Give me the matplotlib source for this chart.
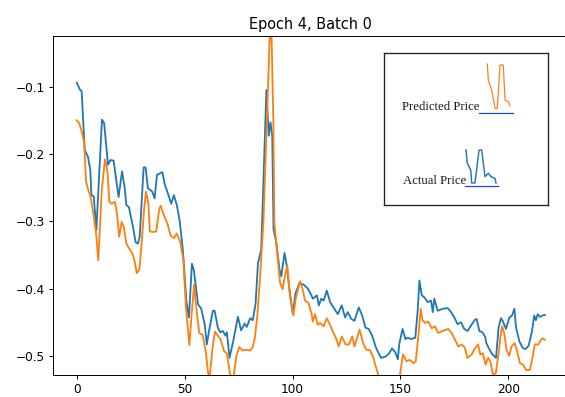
import matplotlib
matplotlib.use("Agg")
import matplotlib.pyplot as plt

# values (x index, price)
actual_x = [0, 1.4, 2.3, 3.7, 5.2, 6.3, 6.8, 7.9, 9.1, 11.7, 12.7, 14.5, 15.6, 17.1,
            19.4, 21.0, 22.2, 23.0, 24.2, 25.3, 26.1, 27.3, 28.4, 29.2, 31.0, 31.9,
            33.0, 35.0, 36.1, 37.2, 39.7, 40.7, 42.3, 43.8, 45.0, 46.4, 47.7, 49.2,
            50.8, 52.0, 53.4, 54.3, 56.2, 57.7, 59.3, 60.3, 61.3, 63.1, 63.9, 65.4,
            66.5, 67.7, 69.0, 69.6, 70.8, 72.4, 74.7, 76.2, 77.8, 78.8, 80.4, 81.6,
            82.9, 84.0, 85.5, 86.7, 87.9, 89.0, 89.8, 90.6, 91.2, 92.5, 94.0, 94.8,
            96.3, 97.4, 98.6, 100.1, 101.4, 103.2, 105.1, 107.1, 108.6, 109.4, 111.3,
            112.2, 113.3, 114.4, 115.9, 117.4, 119.0, 121.0, 122.8, 124.4, 125.6,
            127.2, 128.7, 130.7, 132.3, 133.8, 135.3, 136.9, 138.7, 141.0, 143.1,
            144.6, 146.1, 147.7, 148.8, 149.5, 151.0, 152.3, 153.4, 154.9, 156.9,
            158.0, 158.8, 159.9, 161.1, 162.6, 164.2, 165.0, 165.7, 167.3, 169.6,
            171.9, 173.5, 175.0, 176.5, 178.1, 179.6, 181.1, 182.7, 184.3, 185.3,
            186.6, 188.1, 189.4, 189.7, 190.9, 192.4, 194.3, 195.5, 196.6, 197.4,
            198.9, 200.5, 201.7, 202.8, 203.6, 205.1, 206.6, 207.9, 209.4, 211.0,
            212.0, 212.8, 213.6, 214.7, 215.9, 217.0]
actual_y = [-0.094, -0.104, -0.107, -0.194, -0.204, -0.224, -0.261, -0.263, -0.313,
            -0.149, -0.154, -0.216, -0.209, -0.210, -0.264, -0.226, -0.249, -0.276,
            -0.279, -0.296, -0.309, -0.331, -0.333, -0.323, -0.220, -0.220, -0.251,
            -0.256, -0.266, -0.231, -0.227, -0.244, -0.259, -0.274, -0.261, -0.276,
            -0.299, -0.343, -0.418, -0.443, -0.363, -0.373, -0.423, -0.430, -0.453,
            -0.483, -0.463, -0.433, -0.433, -0.458, -0.465, -0.463, -0.470, -0.465,
            -0.503, -0.480, -0.442, -0.462, -0.452, -0.457, -0.444, -0.447, -0.422,
            -0.362, -0.342, -0.223, -0.105, -0.173, -0.153, -0.173, -0.312, -0.332,
            -0.372, -0.382, -0.347, -0.367, -0.402, -0.437, -0.407, -0.392, -0.394,
            -0.400, -0.409, -0.415, -0.410, -0.425, -0.415, -0.418, -0.403, -0.420,
            -0.428, -0.438, -0.425, -0.443, -0.435, -0.445, -0.448, -0.428, -0.440,
            -0.458, -0.460, -0.470, -0.488, -0.503, -0.501, -0.497, -0.489, -0.495,
            -0.505, -0.482, -0.460, -0.475, -0.473, -0.475, -0.473, -0.433, -0.388,
            -0.410, -0.413, -0.420, -0.418, -0.435, -0.415, -0.433, -0.430, -0.429,
            -0.435, -0.443, -0.453, -0.450, -0.460, -0.463, -0.455, -0.447, -0.445,
            -0.463, -0.465, -0.473, -0.480, -0.488, -0.497, -0.503, -0.458, -0.444,
            -0.448, -0.460, -0.443, -0.440, -0.430, -0.458, -0.478, -0.488, -0.490,
            -0.485, -0.463, -0.440, -0.447, -0.438, -0.442, -0.440, -0.439]

predicted_x = [0, 1.2, 2.3, 3.4, 3.8, 4.3, 5.4, 6.5, 7.7, 9.0, 10.0, 11.6, 13.1, 14.2,
               15.1, 16.2, 17.7, 18.5, 19.7, 20.8, 21.8, 23.0, 24.2, 25.8, 26.9, 27.8,
               29.0, 30.1, 31.2, 32.1, 33.2, 33.9, 35.3, 36.8, 38.3, 38.9, 40.4, 42.0,
               43.5, 45.1, 46.3, 47.9, 49.4, 50.6, 52.2, 53.3, 54.4, 55.6, 56.8, 58.4,
               59.9, 61.4, 63.0, 64.1, 65.6, 66.7, 68.3, 69.5, 71.0, 72.4, 74.0, 75.3,
               76.9, 78.8, 80.3, 81.6, 82.6, 83.7, 84.9, 86.5, 87.7, 88.8, 89.6, 90.2,
               91.1, 91.6, 92.7, 94.2, 95.4, 96.5, 97.6, 98.8, 100.4, 101.6, 103.5,
               104.7, 105.8, 107.3, 108.9, 109.4, 110.5, 111.7, 112.8, 114.4, 115.9,
               117.4, 119.0, 120.2, 121.4, 122.8, 124.6, 126.2, 127.7, 128.7, 131.1,
               132.7, 134.2, 135.8, 137.3, 138.6, 140.4, 142.5, 145.0, 147.5, 149.7,
               151.2, 152.8, 154.3, 156.2, 157.1, 158.3, 159.4, 160.2, 161.4, 162.9,
               164.5, 166.0, 167.5, 169.5, 172.2, 173.7, 175.3, 176.8, 178.4, 179.9,
               181.0, 183.0, 184.5, 186.0, 187.0, 188.2, 189.5, 190.6, 191.7, 192.9,
               194.2, 195.3, 196.4, 197.1, 198.1, 199.2, 200.4, 201.5, 203.0, 204.1,
               205.4, 206.9, 208.2, 210.0, 211.3, 212.3, 213.9, 214.7, 215.9, 217.0]
predicted_y = [-0.150, -0.154, -0.167, -0.182, -0.204, -0.241, -0.254, -0.264, -0.289,
               -0.319, -0.358, -0.254, -0.208, -0.224, -0.271, -0.274, -0.271, -0.284,
               -0.323, -0.301, -0.308, -0.333, -0.340, -0.348, -0.360, -0.377, -0.372,
               -0.333, -0.283, -0.256, -0.273, -0.315, -0.316, -0.315, -0.281, -0.277,
               -0.291, -0.303, -0.321, -0.325, -0.318, -0.330, -0.357, -0.427, -0.484,
               -0.436, -0.394, -0.434, -0.466, -0.469, -0.496, -0.540, -0.486, -0.464,
               -0.471, -0.476, -0.493, -0.496, -0.526, -0.538, -0.500, -0.487, -0.492,
               -0.491, -0.492, -0.487, -0.472, -0.440, -0.386, -0.302, -0.188, -0.084,
               -0.010, -0.010, -0.148, -0.302, -0.341, -0.391, -0.401, -0.381, -0.366,
               -0.411, -0.440, -0.413, -0.389, -0.401, -0.418, -0.421, -0.438, -0.449,
               -0.438, -0.454, -0.451, -0.456, -0.444, -0.454, -0.466, -0.474, -0.486,
               -0.471, -0.483, -0.483, -0.471, -0.486, -0.461, -0.481, -0.491, -0.491,
               -0.501, -0.516, -0.535, -0.550, -0.545, -0.550, -0.530, -0.498, -0.508,
               -0.506, -0.511, -0.508, -0.471, -0.430, -0.447, -0.451, -0.449, -0.459,
               -0.456, -0.466, -0.463, -0.460, -0.466, -0.476, -0.486, -0.483, -0.488,
               -0.503, -0.498, -0.489, -0.483, -0.498, -0.496, -0.513, -0.503, -0.508,
               -0.528, -0.526, -0.501, -0.471, -0.456, -0.466, -0.491, -0.500, -0.486,
               -0.481, -0.493, -0.511, -0.513, -0.521, -0.521, -0.501, -0.483, -0.483,
               -0.478, -0.474, -0.476]

title = "Epoch 4, Batch 0"
legend_labels = ["Predicted Price", "Actual Price"]

# tiny hand-drawn looking icons inside the pasted legend box (box pixel units)
pred_icon_x = [103.3, 104.3, 107.7, 111.0, 113.3, 116.0, 119.3, 121.0, 124.3, 126.0]
pred_icon_y = [11.3, 27.3, 37.3, 55.6, 55.6, 12.3, 12.3, 47.3, 49.0, 53.3]
act_icon_x = [82.0, 83.3, 86.7, 87.7, 91.0, 95.0, 97.7, 101.0, 104.3, 107.0, 111.0, 112.0]
act_icon_y = [97.3, 110.3, 117.3, 130.3, 130.3, 97.3, 97.3, 124.0, 120.6, 124.0, 125.6, 130.3]

DPI = 87
fig = plt.figure(figsize=(565 / DPI, 397 / DPI), dpi=DPI)
ax = fig.add_axes([53.3 / 565, 22 / 397, 515.1 / 565, 339 / 397])

ax.plot(actual_x, actual_y, color="tab:blue")
ax.plot(predicted_x, predicted_y, color="tab:orange")
ax.set_xlim(-10.85, 227.85)
ax.set_ylim(-0.5284, -0.0247)
ax.set_xticks([0, 50, 100, 150, 200])
ax.set_yticks([-0.5, -0.4, -0.3, -0.2, -0.1])
ax.set_title(title)

# the legend in the source is a pasted picture: framed box, serif text, mini plots
box_w, box_h = 164, 152.3
leg = fig.add_axes([384 / 565, 1 - 205 / 397, box_w / 565, box_h / 397])
leg.set_xlim(0, box_w)
leg.set_ylim(box_h, 0)
leg.set_xticks([])
leg.set_yticks([])
for s in leg.spines.values():
    s.set_color("#222222")
    s.set_linewidth(1.1)

serif = ["Liberation Serif", "DejaVu Serif"]
leg.text(17.7, 57.3, legend_labels[0], family=serif, fontsize=10.5,
         color="#1a1a1a", va="baseline", ha="left")
leg.text(18.7, 131.6, legend_labels[1], family=serif, fontsize=10.5,
         color="#1a1a1a", va="baseline", ha="left")
leg.plot(pred_icon_x, pred_icon_y, color="tab:orange", lw=1.0)
leg.plot(act_icon_x, act_icon_y, color="tab:blue", lw=1.2)
leg.plot([95, 129], [60, 60], color="#2040e0", lw=1.0)
leg.plot([81, 114], [133.3, 133.3], color="#2040e0", lw=1.0)

fig.savefig("out.png", dpi=DPI)
